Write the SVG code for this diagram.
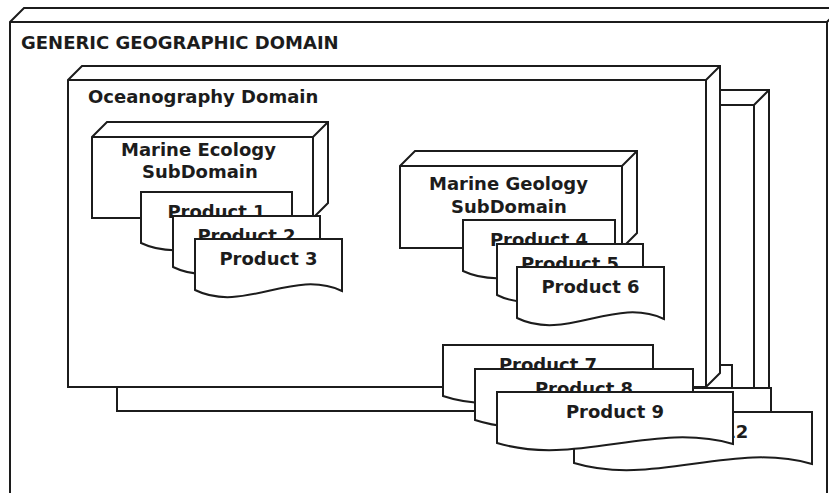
<svg xmlns="http://www.w3.org/2000/svg" width="829" height="493" viewBox="0 0 829 493">
<style>
.n{fill:#fff;stroke:#1c1c1c;stroke-width:2;stroke-linejoin:miter}
.e{fill:none;stroke:#1c1c1c;stroke-width:2}
.t{font-family:"DejaVu Sans","Verdana",sans-serif;font-weight:bold;font-size:18px;fill:#1c1c1c}
.c{text-anchor:middle}
</style>
<rect width="829" height="493" fill="#fff"/>
<g id="generic-domain">
<path class="n" d="M10,22 L24,8 L841,8 L841,526 L827,540 L10,540 Z"/>
<path class="e" d="M10,22 H827 L841,8 M827,22 V540"/>
<text class="t" x="21" y="49">GENERIC GEOGRAPHIC DOMAIN</text>
</g>
<g id="domain-2">
<path class="n" d="M117,105 L132,90 L769,90 L769,396 L754,411 L117,411 Z"/>
<path class="e" d="M117,105 H754 L769,90 M754,105 V411"/>
</g>
<g id="product-10">
<path class="n" d="M520,365 H732 V417 C661.3,394 590.7,440 520,416 Z"/>
</g>
<g id="product-11">
<path class="n" d="M552,388 H771 V440 C698,417 625,463 552,439 Z"/>
</g>
<g id="product-12">
<path class="n" d="M574,412 H812 V464 C732.7,441 653.3,487 574,463 Z"/>
<text class="t c" x="693" y="438">Product 12</text>
</g>
<g id="oceanography-domain">
<path class="n" d="M68,80 L82,66 L720,66 L720,373 L706,387 L68,387 Z"/>
<path class="e" d="M68,80 H706 L720,66 M706,80 V387"/>
<text class="t" x="88" y="103">Oceanography Domain</text>
</g>
<g id="marine-ecology">
<path class="n" d="M92,137 L107,122 L328,122 L328,203 L313,218 L92,218 Z"/>
<path class="e" d="M92,137 H313 L328,122 M313,137 V218"/>
<text class="t" x="121" y="156">Marine Ecology</text>
<text class="t" x="142" y="178">SubDomain</text>
</g>
<g id="product-1">
<path class="n" d="M141,192 H292 V244 C241.7,221 191.3,267 141,243 Z"/>
<text class="t c" x="216.5" y="218">Product 1</text>
</g>
<g id="product-2">
<path class="n" d="M173,216 H320 V268 C271,245 222,291 173,267 Z"/>
<text class="t c" x="246.5" y="242">Product 2</text>
</g>
<g id="product-3">
<path class="n" d="M195,239 H342 V291 C293,268 244,314 195,290 Z"/>
<text class="t c" x="268.5" y="265">Product 3</text>
</g>
<g id="marine-geology">
<path class="n" d="M400,166 L415,151 L637,151 L637,233 L622,248 L400,248 Z"/>
<path class="e" d="M400,166 H622 L637,151 M622,166 V248"/>
<text class="t" x="429" y="190">Marine Geology</text>
<text class="t" x="451" y="213">SubDomain</text>
</g>
<g id="product-4">
<path class="n" d="M463,220 H615 V272 C564.3,249 513.7,295 463,271 Z"/>
<text class="t c" x="539" y="246">Product 4</text>
</g>
<g id="product-5">
<path class="n" d="M497,244 H643 V296 C594.3,273 545.7,319 497,295 Z"/>
<text class="t c" x="570" y="270">Product 5</text>
</g>
<g id="product-6">
<path class="n" d="M517,267 H664 V319 C615,296 566,342 517,318 Z"/>
<text class="t c" x="590.5" y="293">Product 6</text>
</g>
<g id="product-7">
<path class="n" d="M443,345 H653 V397 C583,374 513,420 443,396 Z"/>
<text class="t c" x="548" y="371">Product 7</text>
</g>
<g id="product-8">
<path class="n" d="M475,369 H693 V421 C620.3,398 547.7,444 475,420 Z"/>
<text class="t c" x="584" y="395">Product 8</text>
</g>
<g id="product-9">
<path class="n" d="M497,392 H733 V444 C654.3,421 575.7,467 497,443 Z"/>
<text class="t c" x="615" y="418">Product 9</text>
</g>
<g id="connectors"/>
</svg>
